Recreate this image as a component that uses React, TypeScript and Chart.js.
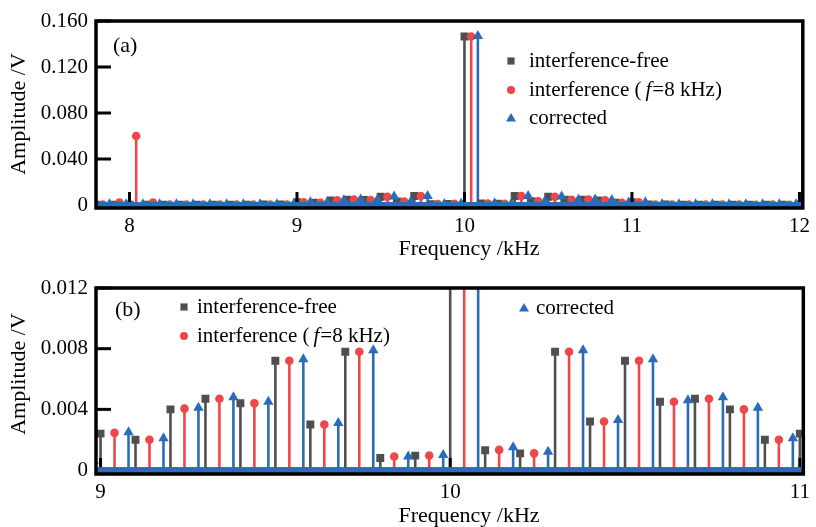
import React, { useEffect, useRef } from "react";
import { Chart, registerables } from "chart.js";

Chart.register(...registerables);

// ---------- data ----------
const freqKHz = [
  7.8, 7.9, 8.0, 8.1, 8.2, 8.3, 8.4, 8.5, 8.6, 8.7, 8.8, 8.9,
  9.0, 9.1, 9.2, 9.3, 9.4, 9.5, 9.6, 9.7, 9.8, 9.9,
  10.0, 10.1, 10.2, 10.3, 10.4, 10.5, 10.6, 10.7, 10.8, 10.9,
  11.0, 11.1, 11.2, 11.3, 11.4, 11.5, 11.6, 11.7, 11.8, 11.9, 12.0,
];

const ampFree = [
  0.0002, 0.0003, 0.0003, 0.0003, 0.0002, 0.0002, 0.0003, 0.0002, 0.0003, 0.0003, 0.0004, 0.0005,
  0.0024, 0.002, 0.004, 0.0047, 0.0044, 0.0072, 0.003, 0.0078, 0.0008, 0.00095,
  0.1465, 0.0013, 0.0011, 0.0078, 0.0032, 0.0072, 0.0045, 0.0047, 0.004, 0.002,
  0.0024, 0.0005, 0.0004, 0.0003, 0.0003, 0.0002, 0.0003, 0.0002, 0.0003, 0.0002, 0.0002,
];

const ampInterf = [
  0.0004, 0.0022, 0.06, 0.0022, 0.0005, 0.0004, 0.0003, 0.0003, 0.0003, 0.0003, 0.0004, 0.0005,
  0.00245, 0.002, 0.00405, 0.0047, 0.0044, 0.0072, 0.003, 0.0078, 0.00089, 0.00096,
  0.1465, 0.00133, 0.0011, 0.0078, 0.0032, 0.0072, 0.0045, 0.0047, 0.004, 0.002,
  0.0024, 0.0005, 0.0004, 0.0003, 0.0003, 0.0003, 0.0003, 0.0002, 0.0003, 0.0002, 0.0002,
];

const ampCorr = [
  0.0006, 0.0006, 0.0006, 0.0006, 0.0006, 0.0006, 0.0006, 0.0006, 0.0006, 0.0006, 0.0006, 0.0006,
  0.0025, 0.0021, 0.0041, 0.0048, 0.0045, 0.0073, 0.0031, 0.0079, 0.0009, 0.001,
  0.147, 0.0015, 0.0012, 0.0079, 0.0033, 0.0073, 0.0046, 0.0048, 0.0041, 0.0021,
  0.0025, 0.0006, 0.0006, 0.0006, 0.0006, 0.0006, 0.0006, 0.0006, 0.0006, 0.0006, 0.0006,
];

// stems of the three series are plotted side by side, shifted in frequency
const seriesOffsetKHz = [0, 0.04, 0.08];

// legend label parts: [text, italic]
const seriesLabels: [string, boolean][][] = [
  [["interference-free", false]],
  [["interference (", false], ["f", true], ["=8 kHz)", false]],
  [["corrected", false]],
];

const xTicksA = [8, 9, 10, 11, 12];
const xTickLabelsA = ["8", "9", "10", "11", "12"];
const yTicksA = [0, 0.04, 0.08, 0.12, 0.16];
const yTickLabelsA = ["0", "0.040", "0.080", "0.120", "0.160"];

const xTicksB = [9, 10, 11];
const xTickLabelsB = ["9", "10", "11"];
const yTicksB = [0, 0.004, 0.008, 0.012];
const yTickLabelsB = ["0", "0.004", "0.008", "0.012"];

const xTitle = "Frequency /kHz";
const yTitle = "Amplitude /V";

// ---------- styles ----------
const COLORS = ["#4f4f4f", "#ef4649", "#2a6cb8"];
const POINT_STYLES = ["rect", "circle", "triangle"];
const POINT_RADII = [5.6, 4.3, 6.0];
const STEM_WIDTH = 2.6;
const FONT = '"Liberation Serif", "Times New Roman", serif';
const TEXT = "#000";

type PanelCfg = {
  canvasTop: number;
  canvasHeight: number;
  areaTop: number;
  areaBottom: number;
  xMin: number;
  xMax: number;
  yMin: number;
  yMax: number;
  xTicks: number[];
  xTickLabels: string[];
  yTicks: number[];
  yTickLabels: string[];
  panelLabel: string;
  panelLabelPos: [number, number];
  xTitlePos: [number, number];
  yTitlePos: [number, number];
  legend: { s: number; mx: number; my: number; tx: number }[];
};

const panelA: PanelCfg = {
  canvasTop: 0,
  canvasHeight: 263,
  areaTop: 21,
  areaBottom: 208,
  xMin: 7.8,
  xMax: 12.02,
  yMin: -0.0026,
  yMax: 0.16,
  xTicks: xTicksA,
  xTickLabels: xTickLabelsA,
  yTicks: yTicksA,
  yTickLabels: yTickLabelsA,
  panelLabel: "(a)",
  panelLabelPos: [113, 46],
  xTitlePos: [469, 249],
  yTitlePos: [19, 114],
  legend: [
    { s: 0, mx: 511, my: 61, tx: 529 },
    { s: 1, mx: 511, my: 90, tx: 529 },
    { s: 2, mx: 511, my: 118, tx: 529 },
  ],
};

const panelB: PanelCfg = {
  canvasTop: 263,
  canvasHeight: 264,
  areaTop: 25,
  areaBottom: 211,
  xMin: 8.987,
  xMax: 11.01,
  yMin: -0.00026,
  yMax: 0.012,
  xTicks: xTicksB,
  xTickLabels: xTickLabelsB,
  yTicks: yTicksB,
  yTickLabels: yTickLabelsB,
  panelLabel: "(b)",
  panelLabelPos: [115, 47],
  xTitlePos: [469, 253],
  yTitlePos: [19, 111],
  legend: [
    { s: 0, mx: 184, my: 44, tx: 197 },
    { s: 1, mx: 184, my: 73, tx: 197 },
    { s: 2, mx: 524, my: 45, tx: 536 },
  ],
};

const AREA_LEFT = 96;
const AREA_RIGHT = 804;
const W = 816;

function buildDatasets() {
  const amps = [ampFree, ampInterf, ampCorr];
  return amps.map((amp, s) => ({
    type: "scatter",
    label: seriesLabels[s].map((p) => p[0]).join(""),
    data: freqKHz.map((f, i) => ({
      x: Math.round((f + seriesOffsetKHz[s]) * 1000) / 1000,
      y: amp[i],
    })),
    showLine: false,
    pointStyle: POINT_STYLES[s],
    pointRadius: POINT_RADII[s],
    pointHoverRadius: POINT_RADII[s],
    pointBackgroundColor: COLORS[s],
    pointBorderColor: COLORS[s],
    pointBorderWidth: 0,
    backgroundColor: COLORS[s],
    borderColor: COLORS[s],
    stemColor: COLORS[s],
    clip: 0,
    order: 2 - s,
  }));
}

function drawMarker(ctx: CanvasRenderingContext2D, s: number, x: number, y: number) {
  ctx.fillStyle = COLORS[s];
  ctx.beginPath();
  if (s === 0) {
    ctx.rect(x - 3.6, y - 3.6, 7.2, 7.2);
  } else if (s === 1) {
    ctx.arc(x, y, 4, 0, Math.PI * 2);
  } else {
    ctx.moveTo(x, y - 5);
    ctx.lineTo(x + 5, y + 3.5);
    ctx.lineTo(x - 5, y + 3.5);
    ctx.closePath();
  }
  ctx.fill();
}

// stems: vertical lines from each data value down to y = 0, positioned by the chart's scales
// (clamped to the plot area by hand, no clip path)
function drawStems(chart: any, cfg: PanelCfg) {
  const { ctx, chartArea: ca, scales } = chart;
  const xs = scales.x;
  const ys = scales.y;
  const y0 = ys.getPixelForValue(0);
  ctx.save();
  chart.data.datasets.forEach((ds: any) => {
    ds.data.forEach((d: any) => {
      if (d.x < cfg.xMin || d.x > cfg.xMax) return;
      const px = xs.getPixelForValue(d.x);
      let py = ys.getPixelForValue(d.y);
      if (!isFinite(py) || py < ca.top) py = ca.top;
      const left = Math.max(px - STEM_WIDTH / 2, ca.left);
      const right = Math.min(px + STEM_WIDTH / 2, ca.right);
      if (right <= left || y0 <= py) return;
      ctx.beginPath();
      ctx.fillStyle = ds.stemColor;
      ctx.rect(left, py, right - left, y0 - py);
      ctx.fill();
    });
  });
  ctx.restore();
}

function makeDecorPlugin(cfg: PanelCfg) {
  return {
    id: "decor",
    beforeDatasetsDraw(chart: any) {
      drawStems(chart, cfg);
    },
    afterDatasetsDraw(chart: any) {
      const { ctx, chartArea: ca, scales } = chart;
      const xs = scales.x;
      const ys = scales.y;
      ctx.save();
      // inward tick marks
      ctx.fillStyle = "#000";
      ys.ticks.forEach((t: any) => {
        const py = ys.getPixelForValue(t.value);
        ctx.fillRect(ca.left, py - 1.5, 15, 3);
      });
      xs.ticks.forEach((t: any) => {
        const px = xs.getPixelForValue(t.value);
        ctx.fillRect(px - 1.5, ca.bottom - 16, 3, 16);
      });
      // stem baseline
      const y0 = ys.getPixelForValue(0);
      ctx.fillStyle = COLORS[2];
      ctx.fillRect(ca.left, y0 - 3, ca.right - ca.left, 6);
      // box
      ctx.strokeStyle = "#000";
      ctx.lineWidth = 3.5;
      ctx.strokeRect(ca.left, ca.top, ca.right - ca.left, ca.bottom - ca.top);
      ctx.restore();
    },
    afterDraw(chart: any) {
      const { ctx } = chart;
      ctx.save();
      ctx.fillStyle = TEXT;
      ctx.textBaseline = "middle";
      // panel label
      ctx.font = `22px ${FONT}`;
      ctx.textAlign = "left";
      ctx.fillText(cfg.panelLabel, cfg.panelLabelPos[0], cfg.panelLabelPos[1]);
      // axis titles
      ctx.font = `22px ${FONT}`;
      ctx.textAlign = "center";
      ctx.fillText(xTitle, cfg.xTitlePos[0], cfg.xTitlePos[1]);
      ctx.save();
      ctx.translate(cfg.yTitlePos[0], cfg.yTitlePos[1]);
      ctx.rotate(-Math.PI / 2);
      ctx.fillText(yTitle, 0, 0);
      ctx.restore();
      // legend
      ctx.textAlign = "left";
      cfg.legend.forEach((e) => {
        drawMarker(ctx, e.s, e.mx, e.my);
        ctx.fillStyle = TEXT;
        let x = e.tx;
        const parts = seriesLabels[e.s];
        parts.forEach((p, k) => {
          ctx.font = `${p[1] ? "italic " : ""}21px ${FONT}`;
          ctx.fillText(p[0], x, e.my);
          x += ctx.measureText(p[0]).width;
          if (k === 0 && parts.length > 1) x += 4;
          if (p[1]) x += 1;
        });
      });
      ctx.restore();
    },
  };
}

function Panel({ cfg }: { cfg: PanelCfg }) {
  const ref = useRef<HTMLCanvasElement | null>(null);
  useEffect(() => {
    if (!ref.current) return;
    const tickFont = { family: FONT, size: 21 };
    const chart = new Chart(ref.current, {
      type: "scatter",
      data: { datasets: buildDatasets() as any },
      options: {
        animation: false,
        responsive: false,
        maintainAspectRatio: false,
        events: [],
        layout: { padding: { left: 0, right: W - AREA_RIGHT, top: cfg.areaTop, bottom: 0 } },
        plugins: { legend: { display: false }, tooltip: { enabled: false } },
        scales: {
          x: {
            type: "linear",
            min: cfg.xMin,
            max: cfg.xMax,
            offset: false,
            grid: { display: false, drawTicks: false },
            border: { display: false },
            afterBuildTicks: (s: any) => {
              s.ticks = cfg.xTicks.map((v) => ({ value: v }));
            },
            afterFit: (s: any) => {
              s.height = cfg.canvasHeight - cfg.areaBottom;
            },
            ticks: {
              autoSkip: false,
              maxRotation: 0,
              color: TEXT,
              font: tickFont,
              padding: 6,
              callback: (v: any) => {
                const i = cfg.xTicks.indexOf(Number(v));
                return i >= 0 ? cfg.xTickLabels[i] : "";
              },
            },
          },
          y: {
            type: "linear",
            min: cfg.yMin,
            max: cfg.yMax,
            grid: { display: false, drawTicks: false },
            border: { display: false },
            afterBuildTicks: (s: any) => {
              s.ticks = cfg.yTicks.map((v) => ({ value: v }));
            },
            afterFit: (s: any) => {
              s.width = AREA_LEFT;
            },
            ticks: {
              autoSkip: false,
              color: TEXT,
              font: tickFont,
              padding: 8,
              callback: (v: any) => {
                const i = cfg.yTicks.indexOf(Number(v));
                return i >= 0 ? cfg.yTickLabels[i] : "";
              },
            },
          },
        },
      } as any,
      plugins: [makeDecorPlugin(cfg)],
    });
    return () => chart.destroy();
  }, [cfg]);
  return (
    <canvas
      ref={ref}
      width={W}
      height={cfg.canvasHeight}
      style={{
        position: "absolute",
        left: 0,
        top: cfg.canvasTop,
        width: W,
        height: cfg.canvasHeight,
        display: "block",
      }}
    />
  );
}

export default function App() {
  return (
    <div
      style={{
        position: "absolute",
        left: 0,
        top: 0,
        width: W,
        height: 527,
        background: "#fff",
        overflow: "hidden",
      }}
    >
      <Panel cfg={panelA} />
      <Panel cfg={panelB} />
    </div>
  );
}
